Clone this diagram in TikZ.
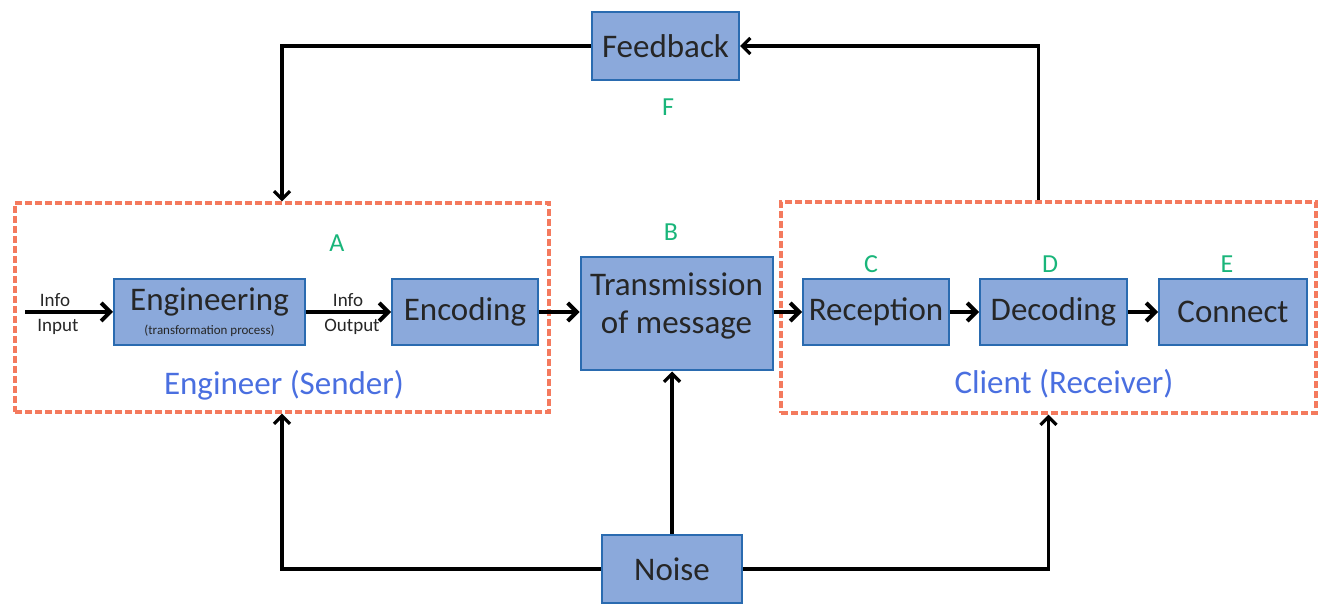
\documentclass[tikz,border=0pt]{standalone}
\usepackage{fontspec}
\setmainfont{Carlito}
\usetikzlibrary{arrows.meta,calc}
\definecolor{boxfill}{HTML}{8BA9DB}
\definecolor{boxline}{HTML}{2A6BB0}
\definecolor{dashred}{HTML}{F47A5E}
\definecolor{taggreen}{HTML}{19B57A}
\definecolor{groupblue}{HTML}{4A6FE0}
\begin{document}
\begin{tikzpicture}[x=0.5pt,y=-0.5pt,
  stage/.style={draw=boxline, fill=boxfill, line width=1pt, inner sep=0pt,
    align=center, text=black!85, font=\fontsize{16.5}{17}\selectfont},
  stagetext/.style={align=center, text=black!85, font=\fontsize{16.5}{17}\selectfont},
  group/.style={draw=dashred, dash pattern=on 3.4pt off 1.6pt, line width=1.6pt,
    inner sep=0pt},
  tag/.style={text=taggreen, font=\fontsize{13}{14}\selectfont},
  grouplabel/.style={text=groupblue, font=\fontsize{16.5}{17}\selectfont},
  flowlabel/.style={text=black!85, font=\fontsize{9.5}{10}\selectfont},
  flow/.style={line width=2pt, -{Straight Barb[length=4.5pt,width=9pt]}},
  loop/.style={line width=1.6pt, -{Straight Barb[length=4pt,width=8pt]}}
]
\useasboundingbox (0,0) rectangle (1319,604);

% sender and receiver groups
\node[group, minimum width=267pt, minimum height=104.5pt] (sender) at (282,307.5) {};
\node[group, minimum width=267.5pt, minimum height=105.5pt] (receiver) at (1048.5,307.5) {};

% stages
\node[stage, minimum width=95.5pt, minimum height=33pt] (eng) at (209.5,312) {};
\node[stagetext] (engtxt) at (209.5,302) {Engineering};
\node[font=\fontsize{6.5}{7}\selectfont, text=black!85] (engsub) at (209.5,331) {(transformation process)};
\node[stage, minimum width=73pt, minimum height=33pt] (enc) at (465,312) {Encoding};
\node[stage, minimum width=96pt, minimum height=56.5pt] (trans) at (676.5,314) {};
\node[stagetext] (transtxt) at (676.5,306) {Transmission\\[2pt]of message};
\node[stage, minimum width=73pt, minimum height=33pt] (rec) at (876,312) {Reception};
\node[stage, minimum width=73.5pt, minimum height=33pt] (dec) at (1053.5,312) {Decoding};
\node[stage, minimum width=74pt, minimum height=33pt] (con) at (1233,312) {Connect};
\node[stage, minimum width=73.5pt, minimum height=34pt] (fb) at (665.5,46) {Feedback};
\node[stage, minimum width=70pt, minimum height=34pt] (noise) at (672,569) {Noise};

% tags
\node[tag] (tA) at (337,243) {A};
\node[tag] (tB) at (671,232) {B};
\node[tag] (tC) at (871,264) {C};
\node[tag] (tD) at (1050,264) {D};
\node[tag] (tE) at (1227,264) {E};
\node[tag] (tF) at (668,107) {F};

% group captions
\node[grouplabel] (sendlbl) at (284,385) {Engineer (Sender)};
\node[grouplabel] (reclbl) at (1064,384) {Client (Receiver)};

% flow labels
\node[flowlabel] (in1) at (55,300) {Info};
\node[flowlabel] (in2) at (58,327) {Input};
\node[flowlabel] (out1) at (348,300) {Info};
\node[flowlabel] (out2) at (352,327) {Output};

% main flow
\coordinate (start) at (25,312);
\draw[flow] (start) -- (eng.west);
\draw[flow] (eng.east) -- (enc.west);
\draw[flow] (enc.east) -- (trans.west |- enc.east);
\draw[flow] (trans.east |- rec.west) -- (rec.west);
\draw[flow] (rec.east) -- (dec.west);
\draw[flow] (dec.east) -- (con.west);

% feedback loop
\draw[loop] ([xshift=-5pt]receiver.north) |- (fb.east);
\draw[loop] (fb.west) -| (sender.north);

% noise
\draw[loop] (noise.west) -| (sender.south);
\draw[loop] (noise.east) -| (receiver.south);
\draw[loop] (noise.north) -- (trans.south -| noise.north);
\end{tikzpicture}
\end{document}
